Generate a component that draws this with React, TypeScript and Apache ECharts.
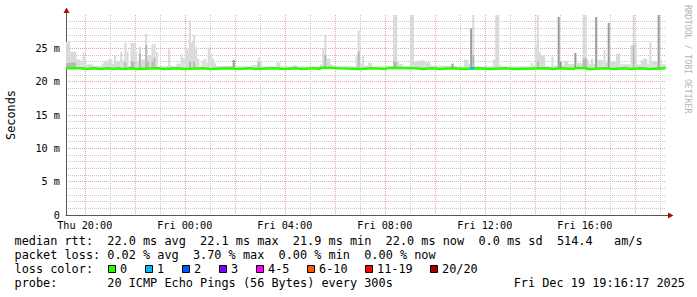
import React, { useEffect, useRef } from 'react';
import * as echarts from 'echarts';

// ---- time axis: minutes since Thu 19:15, one smokeping step = 5 minutes ----
const BIN_MINUTES = 5;
const SPAN_MINUTES = 1440;
const xTickMinutes = [45, 285, 525, 765, 1005, 1245];
const xTickLabels = ['Thu 20:00', 'Fri 00:00', 'Fri 04:00', 'Fri 08:00', 'Fri 12:00', 'Fri 16:00'];

// ---- value axis (ms) ----
const yTickValues = [0, 5, 10, 15, 20, 25];
const yTickLabels = ['0', '5 m', '10 m', '15 m', '20 m', '25 m'];

// smoke: [firstBin, lastBin, highest ping ms, dense-smoke top ms (0 = none)]
const smokeFloor = 21.9;
const smokeRuns: [number, number, number, number][] = [
  [0, 1, 26.0, 22.8], [2, 4, 24.5, 22.9], [5, 6, 23.35, 0], [7, 7, 23.1, 0], [8, 8, 24.35, 0],
  [9, 12, 22.6, 0], [13, 16, 22.35, 0], [17, 17, 22.7, 0], [18, 19, 23.1, 0], [20, 21, 23.35, 0],
  [22, 22, 22.7, 0], [23, 23, 24.0, 0], [24, 25, 23.1, 0], [26, 26, 24.5, 0], [27, 27, 23.2, 0],
  [28, 28, 25.85, 22.9], [29, 29, 24.55, 0], [30, 30, 22.4, 0], [31, 32, 25.8, 23.0], [33, 33, 24.55, 0],
  [34, 34, 23.0, 0], [35, 35, 25.25, 24.25], [36, 37, 23.3, 0], [38, 38, 27.25, 25.5], [39, 39, 24.0, 23.0],
  [40, 40, 24.0, 0], [41, 41, 25.55, 23.0], [42, 42, 25.7, 23.5], [43, 43, 24.45, 0], [44, 48, 22.3, 0],
  [49, 49, 24.85, 0], [50, 50, 22.45, 0], [51, 52, 22.3, 0], [53, 54, 22.7, 0], [55, 55, 24.1, 0],
  [56, 56, 23.5, 0], [57, 57, 24.95, 0], [58, 58, 24.8, 0], [59, 59, 29.2, 23.0], [60, 60, 25.9, 0],
  [61, 61, 27.0, 23.0], [62, 62, 25.2, 0], [63, 63, 23.4, 0], [64, 64, 22.3, 0], [65, 65, 23.0, 0],
  [66, 66, 23.45, 0], [67, 67, 22.8, 0], [68, 68, 25.1, 0], [69, 69, 24.3, 0], [70, 70, 23.5, 0],
  [71, 71, 22.8, 0], [72, 79, 22.35, 0], [80, 80, 23.25, 23.25], [81, 88, 22.3, 0], [89, 91, 22.5, 0],
  [92, 92, 23.6, 23.0], [93, 93, 23.1, 0], [94, 100, 22.3, 0], [101, 102, 22.9, 0], [103, 108, 22.3, 0],
  [109, 110, 22.5, 0], [111, 121, 22.3, 0], [122, 122, 22.6, 0], [123, 123, 25.0, 0], [124, 124, 27.0, 24.0],
  [125, 126, 23.45, 0], [127, 127, 22.6, 0], [128, 138, 22.3, 0], [139, 139, 24.0, 0], [140, 140, 27.65, 24.5],
  [141, 141, 22.7, 0], [142, 142, 23.9, 0], [143, 144, 22.4, 0], [145, 146, 22.8, 0], [147, 156, 22.3, 0],
  [157, 158, 30, 23.0], [159, 159, 23.0, 0], [160, 161, 22.6, 0], [162, 164, 22.3, 0], [165, 166, 30, 0],
  [167, 168, 23.0, 0], [169, 171, 23.2, 0], [172, 174, 22.9, 0], [175, 184, 22.4, 0], [185, 185, 22.7, 22.7],
  [186, 190, 22.3, 0], [191, 192, 23.3, 0], [193, 193, 22.7, 0], [194, 194, 28.0, 28.0], [195, 195, 30, 24.0],
  [196, 204, 22.3, 0], [205, 205, 23.3, 0], [206, 207, 30, 0], [208, 208, 22.5, 0], [209, 222, 22.3, 0],
  [223, 223, 22.8, 0], [224, 224, 22.5, 0], [225, 225, 25.5, 0], [226, 226, 30, 23.0], [227, 227, 24.4, 0],
  [228, 229, 24.0, 0], [230, 232, 22.3, 0], [233, 233, 23.8, 0], [234, 235, 22.4, 0], [236, 236, 29.7, 29.7],
  [237, 237, 23.0, 23.0], [238, 238, 22.4, 0], [239, 240, 23.15, 0], [241, 243, 22.65, 0], [244, 244, 24.3, 24.3],
  [245, 247, 22.8, 0], [248, 249, 30, 23.5], [250, 250, 23.3, 0], [251, 251, 22.7, 0], [252, 252, 23.45, 0],
  [253, 253, 22.7, 0], [254, 254, 29.7, 29.7], [255, 257, 23.25, 0], [258, 258, 24.7, 0], [259, 259, 22.9, 0],
  [260, 260, 28.8, 28.8], [261, 263, 23.0, 0], [264, 265, 24.2, 0], [266, 270, 22.6, 0], [271, 271, 25.5, 0],
  [272, 272, 30, 25.5], [273, 273, 25.6, 0], [274, 275, 22.6, 0], [276, 276, 23.2, 0], [277, 278, 23.45, 0],
  [279, 279, 22.6, 0], [280, 280, 25.9, 0], [281, 283, 23.1, 0], [284, 284, 30, 30], [285, 285, 23.3, 0],
  [286, 287, 22.6, 0],
];

// median rtt: [firstBin, lastBin, ms]
const medianRuns: [number, number, number][] = [
  [0, 6, 22.0], [7, 9, 21.9], [10, 12, 22.0], [13, 15, 21.9], [16, 19, 22.0], [20, 22, 21.9], [23, 23, 22.0],
  [24, 27, 21.9], [28, 30, 22.0], [31, 33, 21.9], [34, 43, 22.0], [44, 46, 21.9], [47, 52, 22.0], [53, 56, 21.9],
  [57, 65, 22.0], [66, 68, 21.9], [69, 77, 22.0], [78, 82, 21.9], [83, 87, 22.0], [88, 90, 21.9], [91, 99, 22.0],
  [100, 104, 21.9], [105, 109, 22.0], [110, 112, 21.9], [113, 119, 22.0], [120, 121, 21.9], [122, 127, 22.1],
  [128, 130, 22.0], [131, 140, 21.9], [141, 146, 22.0], [147, 153, 21.9], [154, 158, 22.05], [159, 167, 22.0],
  [168, 170, 21.9], [171, 175, 22.0], [176, 178, 21.9], [179, 185, 22.0], [186, 190, 21.9], [191, 196, 22.0],
  [197, 203, 21.9], [204, 210, 22.0], [211, 214, 21.9], [215, 229, 22.0], [230, 233, 21.9], [234, 237, 22.0],
  [238, 243, 21.9], [244, 249, 22.05], [250, 251, 21.9], [252, 258, 22.0], [259, 262, 21.9], [263, 267, 22.0],
  [268, 270, 21.9], [271, 275, 22.0], [276, 279, 21.9], [280, 287, 22.0],
];

// bins with packet loss: [firstBin, lastBin, index into loss legend]
const lossRuns: [number, number, number][] = [[194, 195, 1]];

const lossLabels = ['0', '1', '2', '3', '4-5', '6-10', '11-19', '20/20'];
const lossColors = ['#26ff00', '#00b8ff', '#0059ff', '#7e00ff', '#ff00ff', '#ff5500', '#ff0000', '#a10000'];

const statLines = [
  'median rtt:  22.0 ms avg  22.1 ms max  21.9 ms min  22.0 ms now  0.0 ms sd  514.4   am/s',
  'packet loss: 0.02 % avg  3.70 % max  0.00 % min  0.00 % now',
];
const lossTitle = 'loss color:';
const probeText = 'probe:       20 ICMP Echo Pings (56 Bytes) every 300s';
const stampText = 'Fri Dec 19 19:16:17 2025';
const watermark = 'RRDTOOL / TOBI OETIKER';
const yName = 'Seconds';

const MONO = '"DejaVu Sans Mono", monospace';
const LEGEND_SIZE = 11.86;
const CHAR_W = 7.137;
const TEXT_X0 = 14.5;

function medianValueAt(bin: number): number {
  for (const r of medianRuns) if (bin >= r[0] && bin <= r[1]) return r[2];
  return 22.0;
}

function wordTexts(line: string, y: number): any[] {
  const out: any[] = [];
  const re = /\S+/g;
  let m: RegExpExecArray | null;
  while ((m = re.exec(line))) {
    out.push({
      type: 'text', x: TEXT_X0 + m.index * CHAR_W, y,
      style: { text: m[0], fontFamily: MONO, fontSize: LEGEND_SIZE, fill: '#000', verticalAlign: 'middle', align: 'left' },
    });
  }
  return out;
}

export default function App() {
  const ref = useRef<HTMLDivElement>(null);
  useEffect(() => {
    if (!ref.current) return;
    const chart = echarts.init(ref.current, undefined, { renderer: 'svg' });

    const medianData: number[][] = medianRuns.map((r) => [r[0] * BIN_MINUTES, r[2]]);
    medianData.push([SPAN_MINUTES - 1, medianRuns[medianRuns.length - 1][2]]);

    const smokeData = smokeRuns.map((r) => [r[0] * BIN_MINUTES, (r[1] + 1) * BIN_MINUTES, r[2], r[3]]);

    const lossSeries = lossRuns.map((r) => ({
      type: 'line', step: 'end', symbol: 'none', silent: true, z: 4,
      lineStyle: { color: lossColors[r[2]], width: 2.5 },
      data: [[r[0] * BIN_MINUTES, medianValueAt(r[0])], [(r[1] + 1) * BIN_MINUTES, medianValueAt(r[1])]],
    }));

    const graphics: any[] = [];
    // axis arrows
    graphics.push({ type: 'line', shape: { x1: 66.5, y1: 15, x2: 66.5, y2: 11 }, style: { stroke: '#555', lineWidth: 1 } });
    graphics.push({ type: 'polygon', shape: { points: [[63.5, 13], [66.5, 7.5], [69.5, 13]] }, style: { fill: '#a01010' } });
    graphics.push({ type: 'line', shape: { x1: 666, y1: 215.5, x2: 669, y2: 215.5 }, style: { stroke: '#555', lineWidth: 1 } });
    graphics.push({ type: 'polygon', shape: { points: [[668, 212.5], [673.5, 215.5], [668, 218.5]] }, style: { fill: '#a01010' } });
    // watermark
    graphics.push({
      type: 'text', x: 688, y: 5, rotation: -Math.PI / 2,
      style: { text: watermark, fontFamily: MONO, fontSize: 8.2, fill: '#b4b4b4', align: 'left', verticalAlign: 'middle' },
    });
    // statistics
    statLines.forEach((l, i) => graphics.push(...wordTexts(l, 241 + i * 14)));
    graphics.push(...wordTexts(lossTitle, 269));
    let bx = 108;
    lossLabels.forEach((lab, i) => {
      graphics.push({ type: 'rect', shape: { x: bx + 0.5, y: 265.5, width: 7, height: 7 }, style: { fill: lossColors[i], stroke: '#000', lineWidth: 1 } });
      graphics.push({ type: 'text', x: bx + 12, y: 269, style: { text: lab, fontFamily: MONO, fontSize: LEGEND_SIZE, fill: '#000', verticalAlign: 'middle' } });
      bx += 30 + 7 * lab.length;
    });
    graphics.push(...wordTexts(probeText, 283));
    graphics.push({ type: 'text', x: 685, y: 283, style: { text: stampText, fontFamily: MONO, fontSize: LEGEND_SIZE, fill: '#000', align: 'right', verticalAlign: 'middle' } });

    const minorGray = '#c8c8c8';
    const majorRed = '#e8a0a0';
    const none = 'rgba(0,0,0,0)';

    chart.setOption({
      animation: false,
      backgroundColor: '#ffffff',
      grid: { left: 66, right: 31, top: 15, bottom: 82, containLabel: false, outerBoundsMode: 'none' },
      xAxis: {
        type: 'value', min: 0, max: SPAN_MINUTES, interval: 15,
        axisLine: { show: true, onZero: false, lineStyle: { color: '#555', width: 1 } },
        axisTick: { show: false },
        axisLabel: {
          show: true, margin: 5, fontFamily: MONO, fontSize: 10.2, color: '#000',
          showMinLabel: true, showMaxLabel: true,
          formatter: (v: number) => { const i = xTickMinutes.indexOf(v); return i >= 0 ? xTickLabels[i] : ''; },
        },
        splitLine: {
          show: true, showMaxLine: false,
          lineStyle: { color: [none, none, none, majorRed, none, none, none, minorGray], type: [1, 1], width: 1 },
        },
      },
      yAxis: {
        type: 'value', min: 0, max: 30, interval: 1,
        name: yName, nameLocation: 'middle', nameGap: 49, nameRotate: 90,
        nameTextStyle: { fontFamily: MONO, fontSize: LEGEND_SIZE, color: '#000' },
        axisLine: { show: true, lineStyle: { color: '#555', width: 1 } },
        axisTick: { show: false },
        axisLabel: {
          margin: 6, fontFamily: MONO, fontSize: 10.2, color: '#000',
          formatter: (v: number) => { const i = yTickValues.indexOf(v); return i >= 0 ? yTickLabels[i] : ''; },
        },
        splitLine: {
          show: true, showMaxLine: false,
          lineStyle: { color: [majorRed, minorGray, minorGray, minorGray, minorGray], type: [1, 1], width: 1 },
        },
      },
      graphic: graphics,
      series: [
        {
          type: 'custom', clip: true, silent: true, z: 2,
          encode: { x: [0, 1], y: [2, 3] },
          data: smokeData,
          renderItem: (params: any, api: any) => {
            const t0 = api.value(0), t1 = api.value(1), hi = api.value(2), mid = api.value(3);
            const a = api.coord([t0, smokeFloor]);
            const b = api.coord([t1, hi]);
            const children: any[] = [{
              type: 'rect', shape: { x: a[0], y: b[1], width: b[0] - a[0], height: a[1] - b[1] },
              style: { fill: mid >= hi ? '#9c9c9c' : '#dadada' },
            }];
            if (mid > 0 && mid < hi) {
              const c = api.coord([t1, mid]);
              children.push({
                type: 'rect', shape: { x: a[0], y: c[1], width: b[0] - a[0], height: a[1] - c[1] },
                style: { fill: '#b8b8b8' },
              });
            }
            return { type: 'group', children };
          },
        },
        {
          type: 'line', step: 'end', symbol: 'none', silent: true, z: 3,
          lineStyle: { color: lossColors[0], width: 2.5 },
          data: medianData,
        },
        ...lossSeries,
      ],
    });
    return () => chart.dispose();
  }, []);
  return <div ref={ref} style={{ position: 'fixed', left: 0, top: 0, width: 697, height: 297 }} />;
}
